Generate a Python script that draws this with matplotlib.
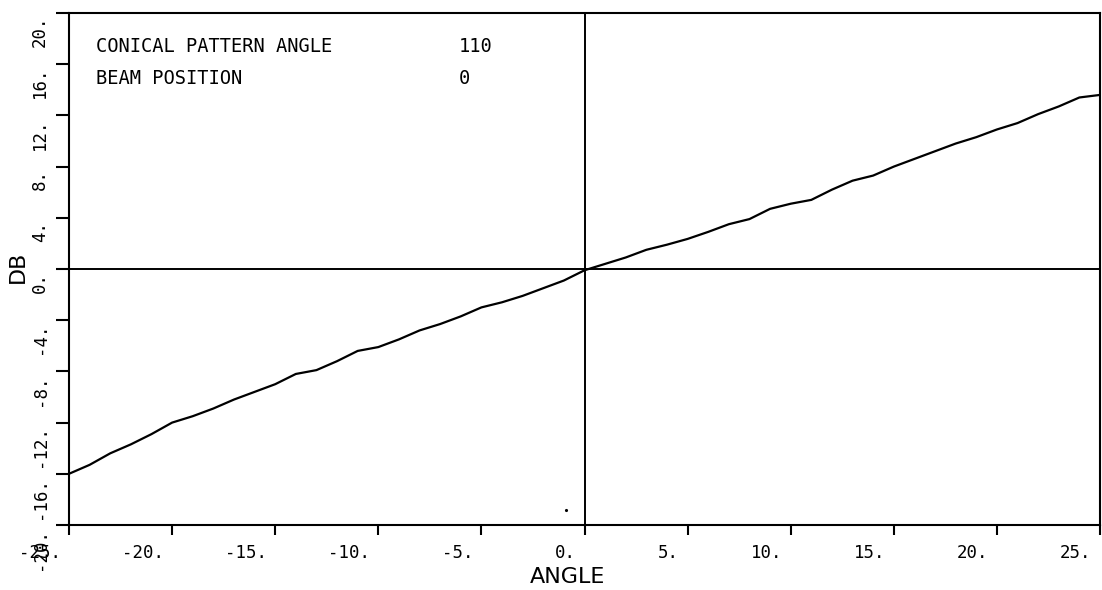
import matplotlib
matplotlib.use("Agg")
import matplotlib.pyplot as plt
from matplotlib.transforms import ScaledTranslation

# Measured gain-difference curve (dB) versus off-axis angle (deg)
angle = [-25, -24, -23, -22, -21, -20, -19, -18, -17, -16, -15, -14, -13, -12,
         -11, -10, -9, -8, -7, -6, -5, -4, -3, -2, -1, 0, 1, 2, 3, 4, 5, 6, 7,
         8, 9, 10, 11, 12, 13, 14, 15, 16, 17, 18, 19, 20, 21, 22, 23, 24, 25]
db = [-16.0, -15.3, -14.4, -13.7, -12.9, -12.0, -11.5, -10.9, -10.2, -9.6,
      -9.0, -8.2, -7.9, -7.2, -6.4, -6.1, -5.5, -4.8, -4.3, -3.7, -3.0, -2.6,
      -2.1, -1.5, -0.9, -0.1, 0.4, 0.9, 1.5, 1.9, 2.35, 2.9, 3.5, 3.9, 4.7,
      5.1, 5.4, 6.2, 6.9, 7.3, 8.0, 8.6, 9.2, 9.8, 10.3, 10.9, 11.4, 12.1,
      12.7, 13.4, 13.6]

# Stray plotted point
stray_x = [-0.9]
stray_y = [-18.8]

x_ticks = [-25, -20, -15, -10, -5, 0, 5, 10, 15, 20, 25]
x_tick_labels = ["-25.", "-20.", "-15.", "-10.", "-5.", "0.", "5.", "10.", "15.", "20.", "25."]
y_ticks = [-20, -16, -12, -8, -4, 0, 4, 8, 12, 16, 20]
y_tick_labels = ["-20.", "-16.", "-12.", "-8.", "-4.", "0.", "4.", "8.", "12.", "16.", "20."]

info_names = ["CONICAL PATTERN ANGLE", "BEAM POSITION"]
info_values = ["110", "0"]

W, H = 1102, 590
fig = plt.figure(figsize=(W / 100, H / 100), dpi=100)
ax = fig.add_axes([69 / W, 1 - 525 / H, (1100 - 69) / W, (525 - 13) / H])

ax.plot(angle, db, color="black", lw=1.6, solid_joinstyle="round")
ax.plot(stray_x, stray_y, ".", color="black", ms=2.5)
ax.axhline(0, color="black", lw=1.4)
ax.axvline(0, color="black", lw=1.4)

ax.set_xlim(-25, 25)
ax.set_ylim(-20, 20)
for s in ax.spines.values():
    s.set_linewidth(1.5)
    s.set_color("black")

mono = "DejaVu Sans Mono"
ax.set_xticks(x_ticks)
ax.set_xticklabels(x_tick_labels, fontsize=12.5, family=mono)
ax.set_yticks(y_ticks)
ax.set_yticklabels(y_tick_labels, fontsize=12.5, family=mono, rotation=90)
ax.tick_params(axis="x", direction="out", length=7.5, width=1.5, pad=6)
ax.tick_params(axis="y", direction="out", length=9.5, width=1.5, pad=5)

dx = ScaledTranslation(-6 / 72, 0, fig.dpi_scale_trans)
for lbl in ax.get_xticklabels():
    lbl.set_ha("right")
    lbl.set_transform(lbl.get_transform() + dx)
dy = ScaledTranslation(0, -2 / 72, fig.dpi_scale_trans)
for lbl in ax.get_yticklabels():
    lbl.set_va("top")
    lbl.set_transform(lbl.get_transform() + dy)

fig.text(568 / W, 1 - 577 / H, "ANGLE", ha="center", va="center",
         fontsize=16, family="DejaVu Sans")
fig.text(18 / W, 1 - 267 / H, "DB", ha="center", va="center",
         fontsize=16, family="DejaVu Sans", rotation=90)

for i, (name, val) in enumerate(zip(info_names, info_values)):
    yy = 1 - (46 + 33 * i) / H
    fig.text(96 / W, yy, name, ha="left", va="center", fontsize=13.5, family=mono)
    fig.text(459 / W, yy, val, ha="left", va="center", fontsize=13.5, family=mono)

fig.savefig("out.png", dpi=100)
